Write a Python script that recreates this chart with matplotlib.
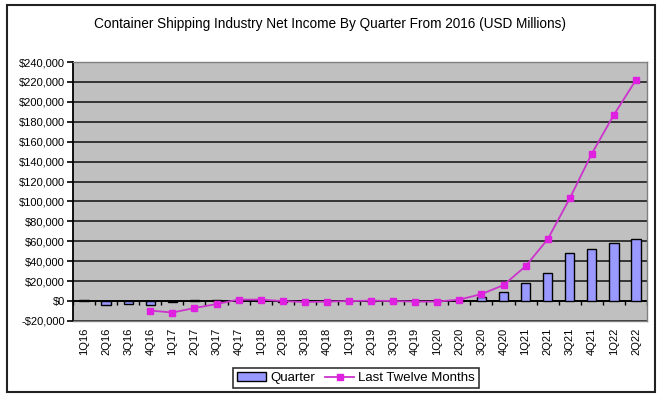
import numpy as np
import matplotlib
matplotlib.use("Agg")
import matplotlib.pyplot as plt
from matplotlib.patches import Rectangle
from matplotlib.ticker import FuncFormatter

plt.rcParams["font.family"] = ["Liberation Sans", "DejaVu Sans"]

quarters = ["1Q16", "2Q16", "3Q16", "4Q16", "1Q17", "2Q17", "3Q17", "4Q17",
            "1Q18", "2Q18", "3Q18", "4Q18", "1Q19", "2Q19", "3Q19", "4Q19",
            "1Q20", "2Q20", "3Q20", "4Q20", "1Q21", "2Q21", "3Q21", "4Q21",
            "1Q22", "2Q22"]

# quarterly net income (USD millions)
quarter_income = [1000, -3500, -3000, -3500, -500, 1500, 1200, 300,
                  -300, -500, 500, -200, 300, 200, 500, -300,
                  200, 1500, 4500, 9000, 18500, 28500, 48000, 52500,
                  58000, 62500]

# last twelve months (starts at 4Q16)
ltm_income = [None, None, None, -9500, -11500, -7000, -3000, 1500,
              1500, 0, -1000, -500, 0, 500, 0, -500,
              -500, 1500, 7000, 16000, 35000, 62000, 103000, 148000,
              187000, 222000]

x = np.arange(len(quarters))
ltm = np.array([np.nan if v is None else v for v in ltm_income], dtype=float)

fig = plt.figure(figsize=(6.6, 3.97), dpi=100)
ax = fig.add_axes([73 / 660, 1 - 321 / 397, 574 / 660, 259 / 397])
ax.set_facecolor("#c0c0c0")

for yv in range(-20000, 240001, 20000):
    ax.axhline(yv, color="#1c1c1c", lw=1.2, zorder=1)

bars = ax.bar(x, quarter_income, width=0.42, color="#9999ff", edgecolor="black",
              linewidth=1.0, zorder=3, label="Quarter")
line, = ax.plot(x, ltm, color="#cc33cc", lw=1.3, marker="s", markersize=4.5,
                markerfacecolor="#e020e0", markeredgecolor="#e020e0", zorder=4,
                label="Last Twelve Months")

# category axis at zero with ticks between categories
ax.axhline(0, color="black", lw=1.3, zorder=2)
ax.vlines(np.arange(len(quarters) + 1) - 0.5, -3500, 0, color="black",
          lw=1.0, zorder=2)

ax.set_xlim(-0.5, len(quarters) - 0.5)
ax.set_ylim(-20000, 240000)
ax.set_yticks(range(-20000, 240001, 20000))
ax.yaxis.set_major_formatter(FuncFormatter(
    lambda v, p: f"-${abs(v):,.0f}" if v < 0 else f"${v:,.0f}"))
ax.set_xticks(x)
ax.set_xticklabels(quarters, rotation=90, fontsize=8)
ax.tick_params(axis="x", length=0, pad=5)
ax.tick_params(axis="y", labelsize=8, length=4, width=1.2, direction="out", pad=2)

for s in ["top", "right", "bottom"]:
    ax.spines[s].set_color("#808080")
    ax.spines[s].set_linewidth(1.0)
ax.spines["left"].set_color("black")
ax.spines["left"].set_linewidth(1.3)

fig.text(0.5, 1 - 24 / 397, "Container Shipping Industry Net Income By Quarter From 2016 (USD Millions)",
         ha="center", va="center", fontsize=9.8)

leg = fig.legend([bars, line], ["Quarter", "Last Twelve Months"],
                 loc="center", bbox_to_anchor=(356 / 660, 1 - 378 / 397), ncol=2,
                 fontsize=9.5, frameon=True, fancybox=False, edgecolor="black",
                 handlelength=2.2, handletextpad=0.3, columnspacing=0.8,
                 borderpad=0.3)
leg.get_frame().set_linewidth(1.2)

fig.patches.append(Rectangle((7 / 660, 5 / 397), 648 / 660, 387 / 397,
                             transform=fig.transFigure, fill=False,
                             edgecolor="#222222", lw=1.5))

fig.savefig("out.png", dpi=100)
